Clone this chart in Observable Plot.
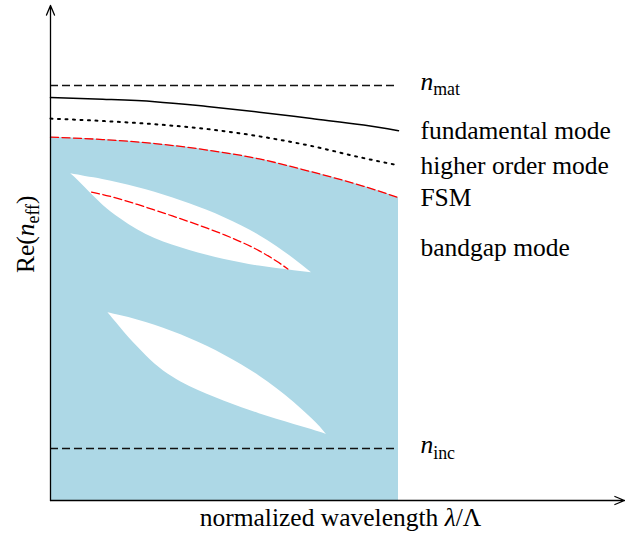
<!DOCTYPE html>
<html>
<head>
<meta charset="utf-8">
<script src="https://cdn.jsdelivr.net/npm/d3@7"></script>
<script src="https://cdn.jsdelivr.net/npm/@observablehq/plot@0.6"></script>
<style>
  html, body { margin: 0; padding: 0; background: #fff; }
  #chart svg { display: block; }
  #chart svg text { font-family: "Liberation Serif", "DejaVu Serif", serif; }
</style>
</head>
<body>
<div id="chart"></div>
<script>
// Schematic band diagram of a photonic-bandgap fibre:
// real part of the effective index versus normalized wavelength λ/Λ.

// normalized wavelength samples for the guided-mode curves
const wavelength = [0, 0.15, 0.3, 0.45, 0.6, 0.75, 0.9, 1.0];
const fundamentalMode = [1.435, 1.433, 1.430, 1.424, 1.417, 1.409, 1.401, 1.394];
const higherOrderMode = [1.409, 1.406, 1.402, 1.396, 1.387, 1.375, 1.360, 1.351];
const fsm = [1.386, 1.383, 1.378, 1.370, 1.359, 1.343, 1.325, 1.311];

// reference indices of the material and of the inclusions
const nMat = 1.45;
const nInc = 1.0;
const claddingEnd = 1.0; // cladding band drawn up to λ/Λ = 1

// first bandgap (upper lens)
const gap1Wavelength = [0.058, 0.08, 0.1, 0.125, 0.15, 0.2, 0.25, 0.3, 0.35, 0.4, 0.45, 0.5, 0.55, 0.6, 0.65, 0.7, 0.75];
const gap1Upper = [1.3405, 1.3389, 1.3373, 1.3355, 1.3334, 1.3288, 1.3236, 1.3176, 1.3109, 1.3035, 1.2953, 1.2861, 1.2758, 1.2641, 1.2505, 1.2350, 1.2178];
const gap1Lower = [1.3405, 1.3320, 1.3234, 1.3125, 1.3019, 1.2851, 1.2711, 1.2603, 1.2523, 1.2455, 1.2395, 1.2344, 1.2300, 1.2261, 1.2230, 1.2203, 1.2178];

// guided bandgap mode inside the first gap
const bandgapWavelength = [0.118, 0.15, 0.2, 0.25, 0.3, 0.35, 0.4, 0.45, 0.5, 0.55, 0.6, 0.65, 0.682];
const bandgapMode = [1.3177, 1.3149, 1.3091, 1.3025, 1.2955, 1.2883, 1.2809, 1.2731, 1.2648, 1.2556, 1.2450, 1.2321, 1.2225];

// second bandgap (lower lens)
const gap2Wavelength = [0.165, 0.18, 0.2, 0.225, 0.25, 0.3, 0.35, 0.4, 0.45, 0.5, 0.55, 0.6, 0.65, 0.7, 0.75, 0.775, 0.793];
const gap2Upper = [1.1682, 1.1667, 1.1648, 1.1623, 1.1594, 1.1527, 1.1450, 1.1364, 1.1266, 1.1157, 1.1035, 1.0899, 1.0745, 1.0571, 1.0374, 1.0267, 1.0174];
const gap2Lower = [1.1682, 1.1605, 1.1503, 1.1377, 1.1260, 1.1048, 1.0888, 1.0767, 1.0671, 1.0584, 1.0505, 1.0431, 1.0362, 1.0298, 1.0236, 1.0201, 1.0174];

// curve labels on the right ("*x*" = italic, "_abc" = subscript)
const labelText = ["*n*_mat", "fundamental mode", "higher order mode", "FSM", "bandgap mode", "*n*_inc"];
const labelIndex = [1.455, fundamentalMode.at(-1), higherOrderMode.at(-1), fsm.at(-1), 1.249, 1.004];
const labelWavelength = 1.063;

const xTitle = "normalized wavelength *λ*/Λ";
const yTitle = "Re(*n*_eff)";

// axis extents
const xMax = 1.6494;
const yMin = 0.9355;
const yMax = 1.5492;

const FONT = 25.5;
const FAMILY = "Liberation Serif";

const zip = (xs, ys) => xs.map((x, i) => ({x, y: ys[i]}));
const band = (xs, lo, hi) => xs.map((x, i) => ({x, lo: lo[i], hi: hi[i]}));

const fsmRows = zip(wavelength, fsm);
const gap1Rows = band(gap1Wavelength, gap1Lower, gap1Upper);
const gap2Rows = band(gap2Wavelength, gap2Lower, gap2Upper);
const labels = labelText.map((t, i) => ({t, x: labelWavelength, y: labelIndex[i]}));

const curve = "monotone-x";
const textStyle = {fontSize: FONT, fontFamily: FAMILY, fill: "black"};

const chart = Plot.plot({
  width: 625,
  height: 540,
  marginLeft: 50,
  marginRight: 1,
  marginTop: 5,
  marginBottom: 40,
  style: {background: "white"},
  x: {domain: [0, xMax], axis: null},
  y: {domain: [yMin, yMax], axis: null},
  marks: [
    // cladding band below the fundamental space-filling mode
    Plot.areaY(fsmRows, {x: "x", y1: yMin, y2: "y", fill: "lightblue", curve}),
    // bandgaps
    Plot.areaY(gap1Rows, {x: "x", y1: "lo", y2: "hi", fill: "white", curve}),
    Plot.areaY(gap2Rows, {x: "x", y1: "lo", y2: "hi", fill: "white", curve}),
    // reference indices
    Plot.ruleY([nMat], {x1: 0, x2: claddingEnd, stroke: "#111", strokeWidth: 1.3, strokeDasharray: "8,4"}),
    Plot.ruleY([nInc], {x1: 0, x2: claddingEnd, stroke: "#111", strokeWidth: 1.3, strokeDasharray: "8,4"}),
    // guided modes
    Plot.line(zip(wavelength, fundamentalMode), {x: "x", y: "y", stroke: "black", strokeWidth: 1.5, curve}),
    Plot.line(zip(wavelength, higherOrderMode), {x: "x", y: "y", stroke: "black", strokeWidth: 2, strokeDasharray: "2,5.5", curve}),
    Plot.line(fsmRows, {x: "x", y: "y", stroke: "red", strokeWidth: 1.3, strokeDasharray: "8,3.5", curve}),
    Plot.line(zip(bandgapWavelength, bandgapMode), {x: "x", y: "y", stroke: "red", strokeWidth: 1.3, strokeDasharray: "8,3.5", curve}),
    // axes with arrow heads
    Plot.arrow([{x1: 0, y1: yMin, x2: 0, y2: yMax}, {x1: 0, y1: yMin, x2: xMax, y2: yMin}], {
      x1: "x1", y1: "y1", x2: "x2", y2: "y2",
      stroke: "black", strokeWidth: 1.3, headLength: 12, headAngle: 45
    }),
    // labels
    Plot.text(labels, {x: "x", y: "y", text: "t", textAnchor: "start", ...textStyle}),
    Plot.text([xTitle], {frameAnchor: "bottom", dy: 25, dx: 3, ...textStyle}),
    Plot.text([yTitle], {frameAnchor: "left", dx: -25, dy: 20, rotate: -90, ...textStyle})
  ]
});

// turn the light markup into italic and subscript tspans
const SVGNS = "http://www.w3.org/2000/svg";
d3.select(chart).selectAll("text").each(function () {
  const s = this.textContent;
  if (!/[*_]/.test(s)) return;
  this.textContent = "";
  const re = /\*([^*]+)\*|_([A-Za-z]+)|([^*_]+)/g;
  const drop = 0.22 * FONT;
  let lowered = false;
  let m;
  while ((m = re.exec(s))) {
    const t = document.createElementNS(SVGNS, "tspan");
    if (m[2]) {
      t.textContent = m[2];
      t.setAttribute("font-size", (0.7 * FONT) + "px");
      t.setAttribute("dy", drop);
      lowered = true;
    } else {
      t.textContent = m[1] || m[3];
      if (m[1]) t.setAttribute("font-style", "italic");
      if (lowered) { t.setAttribute("dy", -drop); lowered = false; }
    }
    this.appendChild(t);
  }
});

document.getElementById("chart").appendChild(chart);
</script>
</body>
</html>
